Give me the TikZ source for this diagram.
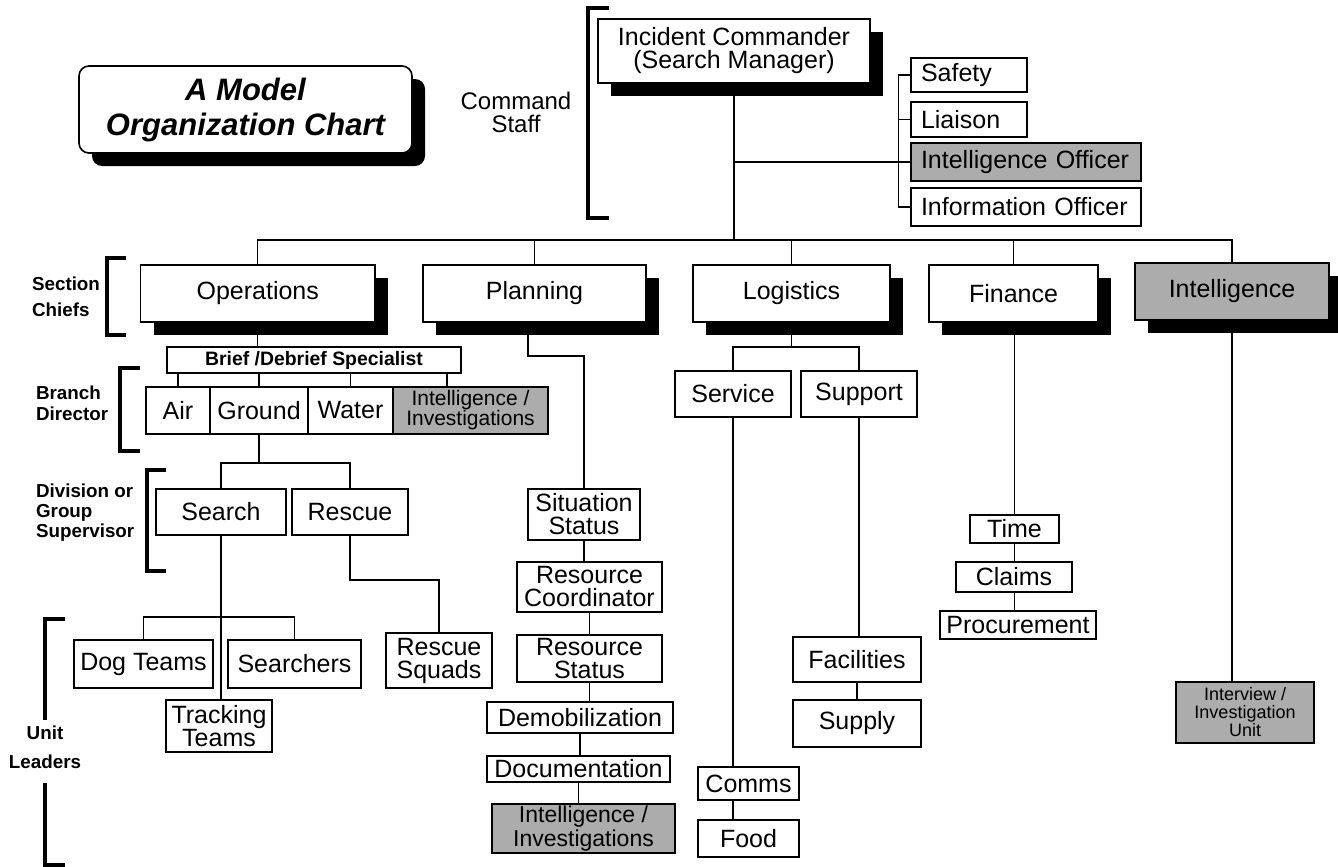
\documentclass[tikz,border=0pt]{standalone}
\usepackage{fontspec}
\setmainfont{Liberation Sans}
\usetikzlibrary{calc}
\usetikzlibrary{positioning}
\usetikzlibrary{shadows}

\definecolor{boxgray}{RGB}{172,172,172}

\begin{document}
\begin{tikzpicture}[x=0.5pt, y=-0.5pt,
        box/.style={draw, line width=0.8pt, fill=white, inner sep=0pt, align=center,
            font=\fontsize{12.5}{11.5}\selectfont},
        wh/.style 2 args={minimum width=#1, minimum height=#2},
        chief/.style={box, drop shadow={shadow xshift=6.5pt, shadow yshift=-6.5pt, opacity=1, fill=black}},
        grey/.style={fill=boxgray},
        staff/.style={box, inner xsep=5pt, align=left, text width=#1},
        side/.style={font=\bfseries\fontsize{9.4}{10}\selectfont, align=left, anchor=west},
        bracket/.style={line width=2pt},
        link/.style={line width=0.7pt}]
    \useasboundingbox (0,0) rectangle (1338,867);

    % title and command staff
    \begin{scope}
        \node[box, wh={166.5pt}{43.5pt}, rounded corners=5pt,
            font=\bfseries\itshape\fontsize{15.5}{17.5}\selectfont,
            drop shadow={shadow xshift=6.5pt, shadow yshift=-6.5pt, opacity=1, fill=black}]
            (title) at (245.5,109.5) {A Model\\Organization Chart};
        \node[font=\fontsize{12}{11.5}\selectfont, align=center] (cmdlbl) at (516,112) {Command\\Staff};
        \node[chief, wh={136pt}{32pt}] (ic) at (734,51) {Incident Commander\\(Search Manager)};
        \node[staff=48pt, minimum height=17pt] (safety) at (969,75) {Safety};
        \node[staff=48pt, minimum height=17.5pt] (liaison) at (969,119.5) {Liaison};
        \node[staff=105pt, minimum height=19pt, grey] (intoff) at (1026,162) {Intelligence Officer};
        \node[staff=105pt, minimum height=19pt] (info) at (1026,207) {Information Officer};
    \end{scope}

    % section chiefs
    \begin{scope}
        \node[chief, wh={117.25pt}{28.5pt}] (ops) at (257.75,293.5) {Operations};
        \node[chief, wh={111.5pt}{28.5pt}] (plan) at (534.5,293.5) {Planning};
        \node[chief, wh={98.5pt}{28.5pt}] (log) at (791.5,293.5) {Logistics};
        \node[chief, wh={84.5pt}{28.5pt}] (fin) at (1013.5,293.5) {Finance};
        \node[chief, grey, wh={97pt}{28.5pt}] (intel) at (1232,291.5) {Intelligence};
    \end{scope}

    % operations
    \begin{scope}
        \node[box, wh={147pt}{13pt}, font=\bfseries\fontsize{9.7}{10}\selectfont] (brief) at (314,360) {Brief /Debrief Specialist};
        \node[box, wh={32pt}{23.5pt}] (air) at (178,410.5) {Air};
        \node[box, wh={49pt}{23.5pt}] (ground) at (259,410.5) {Ground};
        \node[box, wh={42.5pt}{23.5pt}] (water) at (350.5,410.5) {Water};
        \node[box, grey, wh={77.5pt}{23.5pt}, font=\fontsize{10.5}{10}\selectfont] (brinv) at (470.5,410.5) {Intelligence /\\Investigations};
        \node[box, wh={65pt}{23pt}] (search) at (221,512) {Search};
        \node[box, wh={58pt}{23pt}] (rescue) at (350,512) {Rescue};
        \node[box, wh={69.5pt}{24pt}] (dog) at (143.5,664) {Dog Teams};
        \node[box, wh={66.5pt}{24pt}] (searchers) at (294.5,664) {Searchers};
        \node[box, wh={53pt}{26pt}] (track) at (219,726) {Tracking\\Teams};
        \node[box, wh={53pt}{27.5pt}] (squads) at (439,660.5) {Rescue\\Squads};
    \end{scope}

    % planning
    \begin{scope}
        \node[box, wh={56pt}{25.5pt}] (sitstat) at (584,514.5) {Situation\\Status};
        \node[box, wh={72.5pt}{25pt}] (rescoord) at (589.5,587) {Resource\\Coordinator};
        \node[box, wh={72.5pt}{23.5pt}] (resstat) at (589.5,658.5) {Resource\\Status};
        \node[box, wh={93pt}{15.5pt}] (demob) at (580,717.5) {Demobilization};
        \node[box, wh={91.5pt}{13pt}] (docu) at (578.5,769) {Documentation};
        \node[box, grey, wh={91.5pt}{24.5pt}, font=\fontsize{11.5}{10.5}\selectfont] (plinv) at (583.5,828.5) {Intelligence /\\Investigations};
    \end{scope}

    % logistics, finance, intelligence
    \begin{scope}
        \node[box, wh={58pt}{23pt}] (service) at (733,394) {Service};
        \node[box, wh={58pt}{23pt}] (support) at (859,394) {Support};
        \node[box, wh={50.5pt}{16.5pt}] (comms) at (748.5,783.5) {Comms};
        \node[box, wh={50.5pt}{18.5pt}] (food) at (748.5,838.5) {Food};
        \node[box, wh={64pt}{22.5pt}] (fac) at (857,659.5) {Facilities};
        \node[box, wh={64pt}{23.5pt}] (supply) at (857,723.5) {Supply};
        \node[box, wh={44.5pt}{14pt}] (time) at (1014.5,529) {Time};
        \node[box, wh={58pt}{15pt}] (claims) at (1014,577) {Claims};
        \node[box, wh={78pt}{14pt}] (proc) at (1018,625) {Procurement};
        \node[box, grey, wh={69pt}{30.5pt}, font=\fontsize{9}{9}\selectfont] (interview) at (1245,712.5) {Interview /\\Investigation\\Unit};
    \end{scope}

    % level labels
    \node[side, font=\bfseries\fontsize{9.4}{13}\selectfont] (lblsec) at (25,296.5) {Section\\Chiefs};
    \node[side, font=\bfseries\fontsize{9.4}{10.5}\selectfont] (lblbra) at (29,403.5) {Branch\\Director};
    \node[side] (lbldiv) at (29,513) {Division or\\Group\\Supervisor};
    \node[side, anchor=center, align=center, font=\bfseries\fontsize{9.4}{14.5}\selectfont] (lblunit) at (45,747.5) {Unit\\Leaders};

    \begin{scope}[bracket]
        \draw (609,8) -- (588,8) -- (588,218) -- (609,218);
        \draw (126,258) -- (107,258) -- (107,335) -- (126,335);
        \draw (140,368) -- (120,368) -- (120,451) -- (140,451);
        \draw (166,470) -- (147,470) -- (147,571) -- (166,571);
        \draw (65,619) -- (45,619) -- (45,720);
        \draw (45,783) -- (45,865) -- (65,865);
    \end{scope}

    \begin{scope}[link]
        \coordinate (bus) at (723,240);
        \coordinate (invtap) at (447,373);
        \coordinate (gsplit) at (257,463);
        \coordinate (dsplit) at (220,617);
        \coordinate (rbend) at (400,580);
        \coordinate (lsplit) at (787,347);
        \coordinate (pbend) at (528,356);

        % command staff
        \draw (ic.south) -- (ic.south |- bus);
        \draw (ic.south |- intoff.west) -- (intoff.west);
        \draw (safety.west) -- ++(-12,0) |- (info.west);
        \draw (liaison.west) -- ++(-12,0);

        % section chiefs
        \draw (ops.north) |- (bus) -| (intel.north);
        \draw (plan.north) -- (plan.north |- bus);
        \draw (log.north) -- (log.north |- bus);
        \draw (fin.north) -- (fin.north |- bus);

        % operations
        \draw (ops.south) -- (ops.south |- brief.north);
        \draw (air.north) -- (air.north |- brief.south);
        \draw (ground.north) -- (ground.north |- brief.south);
        \draw (water.north) -- (water.north |- brief.south);
        \draw (invtap) -- (invtap |- brinv.north);
        \draw (ground.south) -- (ground.south |- gsplit);
        \draw (search.north) |- (gsplit) -| (rescue.north);
        \draw (search.south) -- (search.south |- track.north);
        \draw (dog.north) |- (dsplit) -| (searchers.north);
        \draw (rescue.south) |- (rbend) -| (squads.north);

        % planning
        \draw (pbend |- plan.south) -- (pbend) -| (sitstat.north);
        \draw (sitstat.south) -- (sitstat.south |- rescoord.north);
        \draw (rescoord.south) -- (rescoord.south |- resstat.north);
        \draw (resstat.south) -- (resstat.south |- demob.north);
        \draw (demob.south) -- (demob.south |- docu.north);
        \draw (docu.south) -- (docu.south |- plinv.north);

        % logistics
        \draw (log.south) -- (log.south |- lsplit);
        \draw (service.north) |- (lsplit) -| (support.north);
        \draw (service.south) -- (service.south |- comms.north);
        \draw (comms.south -| service.south) -- (food.north -| service.south);
        \draw (support.south) -- (support.south |- fac.north);
        \draw (fac.south) -- (fac.south |- supply.north);

        % finance
        \draw (time.north |- fin.south) -- (time.north);
        \draw (time.south) -- (time.south |- claims.north);
        \draw (claims.south -| time.south) -- (proc.north -| time.south);

        % intelligence
        \draw (intel.south) -- (intel.south |- interview.north);
    \end{scope}
\end{tikzpicture}
\end{document}
